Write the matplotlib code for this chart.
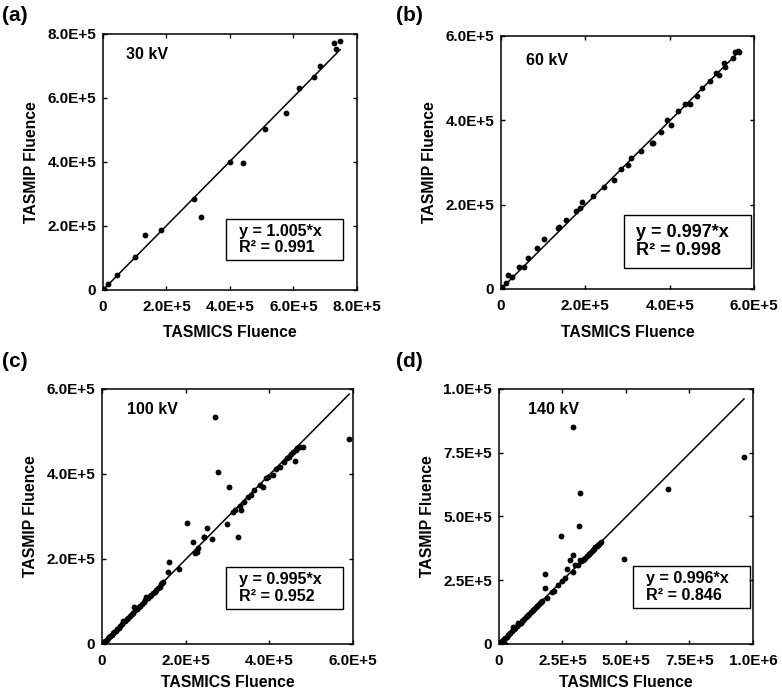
import matplotlib
matplotlib.use("Agg")
import matplotlib.pyplot as plt
from matplotlib.patches import Rectangle

plt.rcParams['font.family'] = ['Liberation Sans', 'DejaVu Sans']
plt.rcParams['font.weight'] = 'bold'

# values in units of 1E+5
a_x = [0.0, 0.03, 0.15, 0.44, 1.02, 1.31, 1.82, 2.87, 3.08, 4.00, 4.42, 5.11, 5.76,
       6.17, 6.64, 6.85, 7.29, 7.33, 7.47]
a_y = [0.0, 0.04, 0.18, 0.48, 1.02, 1.72, 1.87, 2.84, 2.27, 4.00, 3.98, 5.03, 5.52,
       6.31, 6.66, 7.01, 7.71, 7.52, 7.79]

b_x = [0.02, 0.12, 0.16, 0.25, 0.43, 0.54, 0.64, 0.85, 1.03, 1.34, 1.38, 1.55, 1.78,
       1.88, 1.91, 2.19, 2.45, 2.67, 2.84, 3.02, 3.08, 3.33, 3.58, 3.60, 3.80, 3.94,
       4.03, 4.20, 4.37, 4.48, 4.65, 4.77, 4.96, 5.09, 5.17, 5.29, 5.32, 5.49, 5.54,
       5.62, 5.64]
b_y = [0.05, 0.13, 0.32, 0.28, 0.51, 0.51, 0.73, 0.98, 1.19, 1.44, 1.47, 1.63, 1.84,
       1.92, 2.06, 2.20, 2.41, 2.59, 2.84, 2.93, 3.10, 3.28, 3.47, 3.47, 3.72, 4.01,
       3.90, 4.21, 4.38, 4.38, 4.57, 4.76, 4.94, 5.12, 5.07, 5.35, 5.27, 5.47, 5.63,
       5.65, 5.63]

c_x = [0.02, 0.05, 0.08, 0.11, 0.14, 0.17, 0.20, 0.23, 0.26, 0.29, 0.33, 0.36, 0.40,
       0.44, 0.48, 0.51, 0.55, 0.59, 0.63, 0.67, 0.71, 0.75, 0.77, 0.80, 0.84, 0.88,
       0.92, 0.96, 1.00, 1.03, 1.06, 1.10, 1.14, 1.18, 1.22, 1.26, 1.30, 1.34, 1.38,
       1.41, 1.44, 1.46,
       1.59, 1.61, 1.85, 2.04, 2.18, 2.22, 2.26, 2.30, 2.44, 2.45, 2.52, 2.62, 2.70,
       2.77, 3.00, 3.04, 3.14, 3.18, 3.26, 3.30, 3.32, 3.40, 3.50, 3.56, 3.64, 3.78,
       3.84, 3.91, 3.96, 4.08, 4.15, 4.26, 4.34, 4.43, 4.47, 4.52, 4.57, 4.61, 4.63,
       4.67, 4.73, 4.80, 5.91]
c_y = [0.01, 0.04, 0.07, 0.10, 0.13, 0.16, 0.19, 0.21, 0.25, 0.28, 0.31, 0.35, 0.38,
       0.43, 0.47, 0.53, 0.55, 0.58, 0.61, 0.66, 0.70, 0.72, 0.87, 0.79, 0.82, 0.86,
       0.90, 0.94, 0.98, 1.03, 1.10, 1.08, 1.12, 1.15, 1.19, 1.23, 1.27, 1.31, 1.35,
       1.40, 1.43, 1.46,
       1.70, 1.93, 1.76, 2.85, 2.41, 2.13, 2.17, 2.25, 2.52, 2.51, 2.74, 2.46, 5.33,
       4.04, 2.82, 3.69, 3.11, 3.16, 2.51, 3.25, 3.15, 3.35, 3.45, 3.50, 3.62, 3.74,
       3.70, 3.90, 3.94, 3.98, 4.11, 4.16, 4.29, 4.37, 4.41, 4.48, 4.52, 4.31, 4.57,
       4.60, 4.63, 4.64, 4.82]

d_x = [0.02, 0.05, 0.08, 0.12, 0.16, 0.20, 0.22, 0.25, 0.30, 0.35, 0.40, 0.45, 0.50,
       0.56, 0.60, 0.65, 0.70, 0.76, 0.80, 0.85, 0.90, 0.95, 1.00, 1.05, 1.10, 1.15,
       1.20, 1.25, 1.30, 1.35, 1.40, 1.45, 1.50, 1.55, 1.60, 1.65, 1.70, 1.81, 1.81,
       1.88, 2.08, 2.18, 2.31, 2.43, 2.47, 2.60, 2.70, 2.80, 2.90, 2.90, 2.93, 2.99,
       3.10, 3.15, 3.19, 3.19, 3.25, 3.30, 3.35, 3.40, 3.45, 3.50, 3.55, 3.60, 3.65,
       3.70, 3.75, 3.80, 3.85, 3.90, 3.95, 4.02, 4.92, 6.67, 9.65]
d_y = [0.01, 0.04, 0.07, 0.11, 0.15, 0.19, 0.00, 0.24, 0.29, 0.34, 0.39, 0.44, 0.49,
       0.68, 0.59, 0.64, 0.69, 0.81, 0.79, 0.84, 0.89, 0.94, 0.99, 1.04, 1.09, 1.14,
       1.19, 1.24, 1.29, 1.34, 1.39, 1.44, 1.49, 1.54, 1.59, 1.64, 1.69, 2.73, 2.21,
       1.79, 2.05, 2.08, 2.30, 4.24, 2.45, 2.58, 2.93, 3.29, 3.49, 8.52, 2.82, 3.08,
       3.08, 4.63, 5.91, 3.29, 3.24, 3.29, 3.34, 3.38, 3.44, 3.49, 3.54, 3.58, 3.63,
       3.69, 3.73, 3.79, 3.84, 3.88, 3.94, 4.01, 3.34, 6.07, 7.32]

slopes = [1.005, 0.997, 0.995, 0.996]
r2 = ['0.991', '0.998', '0.952', '0.846']
kv_labels = ['30 kV', '60 kV', '100 kV', '140 kV']
panel_labels = ['(a)', '(b)', '(c)', '(d)']

ticks_a = [0, 2, 4, 6, 8]
ticklabels_a = ['0', '2.0E+5', '4.0E+5', '6.0E+5', '8.0E+5']
ticks_bc = [0, 2, 4, 6]
ticklabels_bc = ['0', '2.0E+5', '4.0E+5', '6.0E+5']
ticks_d = [0, 2.5, 5, 7.5, 10]
xticklabels_d = ['0', '2.5E+5', '5.0E+5', '7.5E+5', '1.0E+6']
yticklabels_d = ['0', '2.5E+5', '5.0E+5', '7.5E+5', '1.0E+5']

fig = plt.figure(figsize=(7.82, 6.92), dpi=100)

positions = [[0.1317, 0.581, 0.3248, 0.370],
             [0.6407, 0.5824, 0.3235, 0.3656],
             [0.1304, 0.0694, 0.321, 0.3685],
             [0.638, 0.0694, 0.3248, 0.3685]]
xs = [a_x, b_x, c_x, d_x]
ys = [a_y, b_y, c_y, d_y]
lims = [8, 6, 6, 10]
xt = [(ticks_a, ticklabels_a), (ticks_bc, ticklabels_bc), (ticks_bc, ticklabels_bc),
      (ticks_d, xticklabels_d)]
yt = [(ticks_a, ticklabels_a), (ticks_bc, ticklabels_bc), (ticks_bc, ticklabels_bc),
      (ticks_d, yticklabels_d)]
boxes = [(0.484, 0.117, 0.461, 0.160, 0.535, 11.6),
         (0.486, 0.083, 0.502, 0.209, 0.534, 13),
         (0.494, 0.137, 0.466, 0.165, 0.546, 11.6),
         (0.528, 0.141, 0.460, 0.165, 0.579, 11.6)]
kv_pos = [(0.09, 0.918), (0.099, 0.905), (0.10, 0.92), (0.114, 0.92)]
label_pos = [(0.003, 0.978), (0.507, 0.978), (0.003, 0.478), (0.507, 0.478)]
xlabel_pads = [8.5, 8.5, 5.5, 5.5]

for i in range(4):
    ax = fig.add_axes(positions[i])
    ax.plot(xs[i], ys[i], 'o', color='black', ms=4.2, mew=0)
    xm = max(xs[i])
    ax.plot([0, xm], [0, slopes[i] * xm], '-', color='black', lw=1.1)
    ax.set_xlim(0, lims[i])
    ax.set_ylim(0, lims[i])
    ax.set_xticks(xt[i][0])
    ax.set_xticklabels(xt[i][1])
    ax.set_yticks(yt[i][0])
    ax.set_yticklabels(yt[i][1])
    ax.tick_params(direction='in', top=True, right=True, length=3, width=1,
                   labelsize=11, pad=5)
    ax.tick_params(axis='x', pad=7)
    for lab in ax.get_xticklabels() + ax.get_yticklabels():
        lab.set_fontweight('bold')
    for s in ax.spines.values():
        s.set_linewidth(1.1)
    ax.set_xlabel('TASMICS Fluence', fontsize=11.3, fontweight='bold',
                  labelpad=xlabel_pads[i])
    ax.set_ylabel('TASMIP Fluence', fontsize=11.3, fontweight='bold', labelpad=6)
    bx, by, bw, bh, tx, fs = boxes[i]
    ax.add_patch(Rectangle((bx, by), bw, bh, transform=ax.transAxes, fill=False,
                           lw=1.0, ec='black'))
    ax.text(tx, by + bh / 2, 'y = %.3f*x\nR\u00b2 = %s' % (slopes[i], r2[i]),
            transform=ax.transAxes, ha='left', va='center', fontsize=fs,
            fontweight='bold', linespacing=1.1)
    ax.text(kv_pos[i][0], kv_pos[i][1], kv_labels[i], transform=ax.transAxes,
            ha='left', va='center', fontsize=11.5, fontweight='bold')
    fig.text(label_pos[i][0], label_pos[i][1], panel_labels[i], ha='left',
             va='center', fontsize=15, fontweight='bold')

fig.savefig('out.png', dpi=100)
